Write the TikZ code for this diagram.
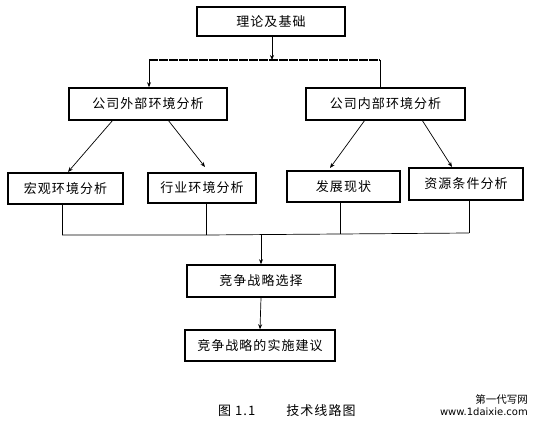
\documentclass[tikz,border=0pt]{standalone}
\usepackage{fontspec}
\setmainfont{Noto Sans CJK SC}[LetterSpace=8]
\newfontfamily\wmfont{DejaVu Sans}
\newfontfamily\wmcjk{Noto Sans CJK SC}
\usetikzlibrary{arrows.meta}
\begin{document}
\begin{tikzpicture}[x=1pt,y=-1pt,
  box/.style={draw,line width=1.6pt,rectangle,inner sep=0pt,font=\fontsize{13}{15}\selectfont},
  conn/.style={line width=0.7pt},
  arr/.style={conn,-{Stealth[length=5pt,width=4pt]}}]
\useasboundingbox (0,0) rectangle (541,433);
\fill[white] (0,0) rectangle (541,433);
\node[box,minimum width=148pt,minimum height=29pt] (top) at (271,21.5) {理论及基础};
\node[box,minimum width=158pt,minimum height=32pt] (ext) at (148,104) {公司外部环境分析};
\node[box,minimum width=159pt,minimum height=32pt] (int) at (385.5,104) {公司内部环境分析};
\node[box,minimum width=115pt,minimum height=31pt] (mac) at (65.5,188.5) {宏观环境分析};
\node[box,minimum width=108pt,minimum height=30pt] (ind) at (202,188) {行业环境分析};
\node[box,minimum width=113pt,minimum height=31pt] (dev) at (343.5,186.5) {发展现状};
\node[box,minimum width=114pt,minimum height=32pt] (res) at (466,184) {资源条件分析};
\node[box,minimum width=148pt,minimum height=32pt] (cho) at (261,281) {竞争战略选择};
\node[box,minimum width=150pt,minimum height=31pt] (imp) at (260,345.5) {竞争战略的实施建议};
% top distribution
\coordinate (tl) at (149,60);
\coordinate (tr) at (380,60);
\coordinate (tm) at (272,60);
\draw[arr] (top.south -| tm) -- (tm);
\draw[line width=1.6pt,dash pattern=on 9pt off 1pt] (tl) -- (tr);
\draw[arr] (tl) -- (tl |- ext.north);
\draw[conn] (tr) -- (tr |- int.north);
% diagonals
\coordinate (e1) at (113,120);
\coordinate (e2) at (168,120);
\coordinate (i1) at (365,120);
\coordinate (i2) at (422,120);
\draw[arr] (e1) -- (68,172);
\draw[arr] (e2) -- (205,167);
\draw[arr] (i1) -- (330,168);
\draw[arr] (i2) -- (452,167);
% collection
\coordinate (b1) at (62,235);
\coordinate (b2) at (206,235);
\coordinate (b3) at (340,234);
\coordinate (b4) at (469,233);
\draw[conn] (mac.south -| b1) -- (b1);
\draw[conn] (ind.south -| b2) -- (b2);
\draw[conn] (dev.south -| b3) -- (b3);
\draw[conn] (res.south -| b4) -- (b4);
\draw[conn] (b1) -- (b2) -- (b3) -- (b4);
\coordinate (bm) at (261,234);
\draw[arr] (bm) -- (cho.north);
\draw[arr] (cho.south) -- (imp.north);
% caption
\node[font=\fontsize{13}{15}\selectfont,anchor=west,inner sep=0pt] (cap) at (218,411) {图\hspace{0.3em}1.1\hspace{2.4em}技术线路图};
\node[font=\wmcjk\fontsize{10.5}{12}\selectfont,anchor=east,inner sep=0pt] (wm1) at (528,399) {第一代写网};
\node[font=\wmfont\fontsize{10}{11}\selectfont,anchor=east,inner sep=0pt] (wm2) at (528,412) {www.1daixie.com};
\end{tikzpicture}
\end{document}
